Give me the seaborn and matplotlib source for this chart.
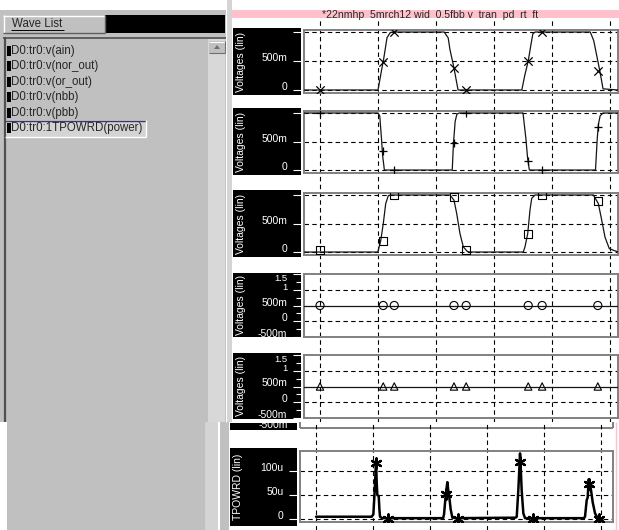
import numpy as np
import pandas as pd
import matplotlib
matplotlib.use("Agg")
import matplotlib.pyplot as plt
import seaborn as sns
from matplotlib.patches import Rectangle, Polygon

# --- datos leidos del visor (tiempo en ns, el eje x no tiene etiquetas) ---
grid_t = [1, 2, 3, 4, 5, 6]
mk_t = [1.00, 2.09, 2.28, 3.31, 3.52, 4.59, 4.83, 5.79]

ain_t = [0.72, 2.00, 2.05, 2.10, 2.155, 2.21, 2.26, 3.14, 3.21, 3.24, 3.31, 3.38,
         4.48, 4.53, 4.59, 4.64, 4.67, 4.71, 5.66, 5.72, 5.78, 5.83, 5.88, 6.14]
ain_v = [0, 0, 0.28, 0.55, 0.9, 0.99, 1.0, 1.0, 0.9, 0.7, 0.38, 0.0,
         0.0, 0.25, 0.5, 0.8, 0.97, 1.0, 1.0, 0.85, 0.55, 0.3, 0.02, 0.0]
ain_mk = [0.0, 0.48, 1.0, 0.38, 0.0, 0.5, 1.0, 0.32]

nor_t = [0.72, 2.00, 2.03, 2.06, 2.08, 2.11, 3.28, 3.30, 3.33, 3.36, 3.40,
         4.50, 4.55, 4.58, 4.61, 5.75, 5.78, 5.80, 5.83, 5.88, 6.14]
nor_v = [1, 1, 0.95, 0.55, 0.25, 0, 0, 0.45, 0.85, 0.98, 1,
         1, 0.55, 0.2, 0, 0, 0.55, 0.8, 0.95, 1, 1]
nor_mk = [1.0, 0.33, 0.0, 0.48, 1.0, 0.15, 0.0, 0.75]

or_t = [0.72, 1.995, 2.012, 2.047, 2.091, 2.133, 2.178, 2.224, 3.241, 3.31, 3.356,
        3.414, 3.471, 3.54, 3.586, 4.505, 4.534, 4.581, 4.621, 4.65, 4.707,
        5.713, 5.799, 5.857, 5.914, 5.988, 6.14]
or_v = [0, 0, 0.06, 0.2, 0.5, 0.85, 0.99, 1.0, 1.0, 0.91, 0.68,
        0.32, 0.09, 0.01, 0, 0, 0.09, 0.32, 0.74, 0.94, 1.0,
        1.0, 0.85, 0.56, 0.26, 0.06, 0.0]
or_mk = [0.03, 0.2, 1.0, 0.96, 0.03, 0.31, 1.0, 0.89]

flat_t = [0.72, 6.14]
nbb_v = [0.5, 0.5]
nbb_mk = [0.5] * 8
pbb_v = [0.5, 0.5]
pbb_mk = [0.5] * 8

# potencia en micro (u)
pwr_t = [1.00, 1.977, 2.006, 2.03, 2.053, 2.065, 2.076, 2.10, 2.112, 2.123, 2.158,
         3.23, 3.246, 3.275, 3.304, 3.32, 3.339, 3.363, 3.392, 3.45,
         4.50, 4.521, 4.549, 4.579, 4.594, 4.608, 4.637, 4.667,
         5.70, 5.719, 5.749, 5.766, 5.784, 5.80, 5.819, 5.854, 5.895, 5.942, 6.03]
pwr_v = [5, 5, 10, 60, 122, 75, 50, 48, 20, 5, 2,
         2, 10, 50, 77, 60, 45, 20, 3, 2,
         3, 5, 60, 137, 100, 60, 12, 2,
         2, 5, 40, 45, 83, 72, 65, 35, 12, 2, 1]
pwr_mk_t = [2.053, 2.269, 3.281, 3.497, 4.579, 4.813, 5.795, 5.97]
pwr_mk = [118, 1, 53, 1, 119, 1, 74, 1]

wave_list = ['D0:tr0:v(ain)', 'D0:tr0:v(nor_out)', 'D0:tr0:v(or_out)',
             'D0:tr0:v(nbb)', 'D0:tr0:v(pbb)', 'D0:tr0:1TPOWRD(power)']
titulo = '*22nmhp  5mrch12 wid  0.5fbb v  tran  pd  rt  ft'

sns.set_style("white")
plt.rcParams['font.family'] = ['Liberation Sans', 'DejaVu Sans']

W, H = 619, 530
fig = plt.figure(figsize=(W / 100, H / 100), dpi=100)
GRIS = '#c0c0c0'
DASH = (0, (4, 3))


def ax_px(x0, y0, x1, y1):
    return fig.add_axes([x0 / W, 1 - y1 / H, (x1 - x0) / W, (y1 - y0) / H])


# fondo en pixeles
bg = ax_px(0, 0, W, H)
bg.set_xlim(0, W)
bg.set_ylim(H, 0)
bg.axis('off')


def rect(x, y, w, h, fc, ec='none', lw=0, z=1):
    r = Rectangle((x, y), w, h, fc=fc, ec=ec, lw=lw, zorder=z)
    bg.add_patch(r)
    return r


def line(xs, ys, c, lw=1, z=2):
    bg.plot(xs, ys, color=c, lw=lw, zorder=z, solid_capstyle='butt')


# panel izquierdo (parte de arriba)
rect(0, 10, 227, 412, GRIS)
rect(227, 0, 5, 422, '#d4d4d4')
line([226, 226], [0, 422], 'white', 0.8)
rect(3, 15, 102, 18, GRIS)
line([3, 105], [15.5, 15.5], 'white', 1)
line([3.5, 3.5], [15, 33], 'white', 1)
line([3, 105], [32.5, 32.5], '#606060', 1)
line([104.5, 104.5], [15, 33], '#606060', 1)
bg.text(37, 24, 'Wave List', fontsize=8.3, ha='center', va='center', zorder=3)
line([11, 64], [29.5, 29.5], 'black', 0.7, 3)
rect(105, 15, 120, 18, 'black')
line([3, 226], [37.5, 37.5], '#505050', 1.2)
line([4.5, 4.5], [37, 422], '#505050', 1.6)
rect(208, 39, 17, 383, '#d8d8d8')
rect(209, 41, 16, 12, GRIS)
line([209, 225], [41.5, 41.5], 'white', 0.8)
line([209, 225], [52.5, 52.5], '#707070', 0.8)
line([224.5, 224.5], [41, 53], '#707070', 0.8)
bg.add_patch(Polygon([[214, 49], [220, 49], [217, 45]], fc='#707070', ec='none', zorder=3))

# seleccionado
rect(5, 120, 141, 17, '#d4d4d4', z=1.5)
line([5, 146], [120.5, 120.5], '#3a3a6a', 1)
line([5, 146], [136.5, 136.5], 'white', 1)
line([145.5, 145.5], [120, 137], 'white', 1)
for i, nombre in enumerate(wave_list):
    yc = 51 + i * 15.4
    rect(7, yc - 5, 3.5, 10, 'black', z=3)
    bg.text(11.5, yc, nombre, fontsize=8.3, ha='left', va='center', zorder=3)

# panel izquierdo (parte de abajo, captura desplazada)
rect(7, 422, 198, 108, GRIS)
rect(205, 422, 13, 108, '#d4d4d4')
rect(218, 422, 2, 108, 'white')
rect(220, 422, 9, 108, GRIS)

# barra rosa del titulo
rect(232, 10, 387, 8, '#ffc0cb')
bg.text(430, 14.5, titulo, fontsize=7.6, ha='center', va='center', zorder=3)


def label_box(y0, y1, texto, x0=233, x1=301, tx=241, z=2):
    rect(x0, y0, x1 - x0, y1 - y0, 'black', z=z)
    bg.text(tx, (y0 + y1) / 2, texto, rotation=90, color='white', fontsize=7.5,
            ha='center', va='center', zorder=z + 1)


# resto de la captura de abajo: caja cortada de "-500m"
glitch = rect(230, 423, 67, 7, 'black', z=2)
t = bg.text(288, 425, '-500m', color='white', fontsize=7.5, ha='right', va='center', zorder=3)
t.set_clip_path(glitch)
line([300, 613], [428, 428], '#808080', 1.4)
line([300, 300], [422, 428], '#808080', 1.4)
line([613, 613], [422, 428], '#808080', 1.4)
line([616, 616], [422, 530], '#ffc0cb', 1)

xlim_top = (0.724, 6.138)
xlim_bot = (0.719, 6.21)

# lineas verticales punteadas (arriba y abajo)
ov = ax_px(304, 20, 618, 422)
ov.set_xlim(xlim_top)
ov.axis('off')
for g in grid_t:
    ov.axvline(g, color='black', lw=0.8, ls=DASH)

ov2 = ax_px(300, 422, 613, 530)
ov2.set_xlim(xlim_bot)
ov2.axis('off')
for g in grid_t:
    ov2.axvline(g, color='black', lw=0.8, ls=DASH)


def style_panel(ax, xlim, ylim, ticks, labels, hgrid, minor=None):
    ax.set_facecolor('none')
    ax.set_xlim(xlim)
    ax.set_ylim(ylim)
    ax.set_xticks([])
    ax.set_yticks(ticks)
    ax.set_yticklabels(labels)
    if minor is not None:
        ax.set_yticks(minor, minor=True)
    plt.setp(ax.get_yticklabels(), va='baseline')
    ax.tick_params(axis='y', which='both', direction='out', length=8, width=0.8,
                   color='white', labelcolor='white', labelsize=7.5, pad=4, left=True)
    ax.tick_params(axis='y', which='minor', length=6)
    for s in ax.spines.values():
        s.set_color('#808080')
        s.set_linewidth(1.4)
    for g in hgrid:
        ax.axhline(g, color='black', lw=0.8, ls=DASH, zorder=1)
    ax.set_xlabel('')
    ax.set_ylabel('')


# paneles de tension 0..1
ylim01 = (-0.052, 1.035)
digital = [
    (30, 93, 28, 95, ain_t, ain_v, ain_mk, 'x'),
    (111, 173, 108, 175, nor_t, nor_v, nor_mk, '+'),
    (193, 255, 190, 257, or_t, or_v, or_mk, 's'),
]
for top, bot, l0, l1, tt, vv, mk, m in digital:
    label_box(l0, l1, 'Voltages (lin)')
    ax = ax_px(304, top, 618, bot)
    sns.lineplot(x=tt, y=vv, ax=ax, color='#151515', lw=0.9, estimator=None, sort=False, zorder=3)
    if m == 's':
        sns.scatterplot(x=mk_t, y=mk, ax=ax, marker='s', s=32, facecolor='none',
                        edgecolor='black', linewidth=0.8, zorder=4)
    else:
        sns.scatterplot(x=mk_t, y=mk, ax=ax, marker=m, s=36, color='black',
                        linewidth=0.9, zorder=4)
    style_panel(ax, xlim_top, ylim01, [0, 0.5, 1], ['0', '500m', ''], [0, 0.5, 1])

# paneles nbb / pbb
analog = [
    (274, 337, 273, 337, nbb_v, nbb_mk, 'o'),
    (355, 418, 353, 419, pbb_v, pbb_mk, '^'),
]
for top, bot, l0, l1, vv, mk, m in analog:
    label_box(l0, l1, 'Voltages (lin)')
    ax = ax_px(304, top, 618, bot)
    sns.lineplot(x=flat_t, y=vv, ax=ax, color='#151515', lw=0.9, estimator=None, zorder=3)
    sns.scatterplot(x=mk_t, y=mk, ax=ax, marker=m, s=34 if m == 'o' else 28,
                    facecolor='none', edgecolor='black', linewidth=0.8, zorder=4)
    style_panel(ax, xlim_top, (-0.5, 1.5), [-0.5, 0, 0.5, 1, 1.5],
                ['-500m', '0', '500m', '1', '1.5'], [0, 1],
                minor=[-0.25, 0.25, 0.75, 1.25])
    lbls = ax.get_yticklabels()
    # "1.5" queda pegado arriba, encima del "1"
    lbls[-1].set_va('top')
    lbls[-1].set_fontsize(6.8)
    lbls[-2].set_fontsize(6.8)

# panel de potencia
label_box(448, 526, 'TPOWRD (lin)', x0=230, x1=297, tx=238)
axp = ax_px(300, 451, 613, 522)
sns.lineplot(x=pwr_t, y=pwr_v, ax=axp, color='black', lw=1.8, estimator=None, sort=False, zorder=3)
sns.scatterplot(x=pwr_mk_t, y=pwr_mk, ax=axp, marker=(6, 2, 0), s=55, color='black',
                linewidth=1.6, zorder=4)
style_panel(axp, xlim_bot, (-6, 142), [0, 50, 100], ['0', '50u', '100u'], [0, 50, 100])

fig.savefig('out.png', dpi=100, facecolor='white')
